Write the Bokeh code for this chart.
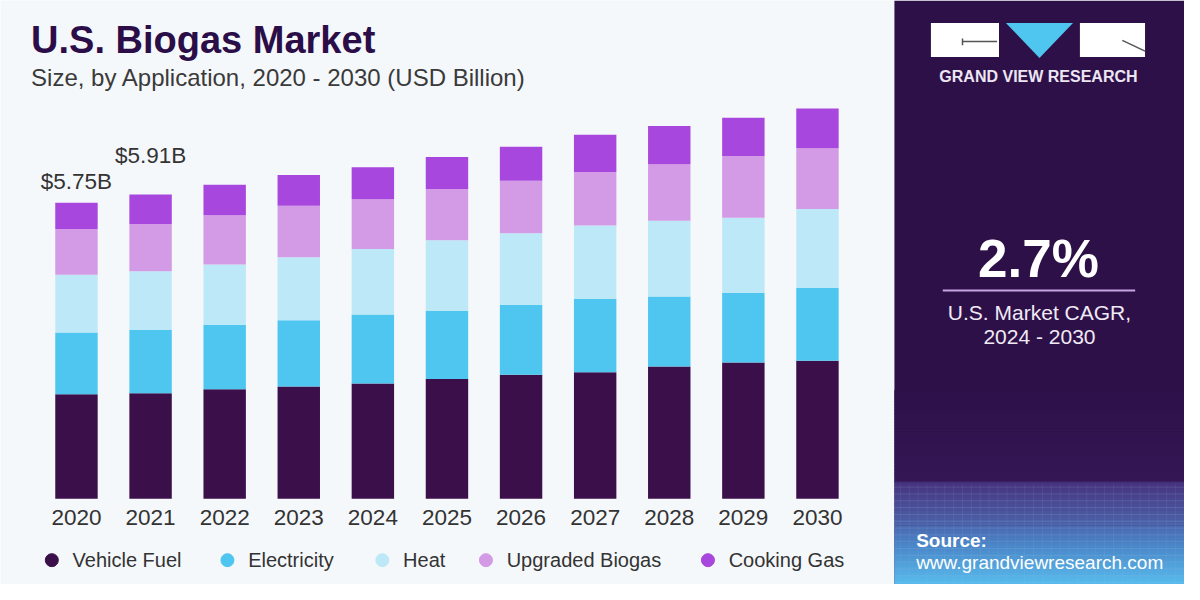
from bokeh.plotting import figure
from bokeh.models import Range1d, ColumnDataSource
from bokeh.core.properties import value
from bokeh.embed import file_html
from bokeh.resources import INLINE

# ---------------- data (USD Billion) ----------------
years = [2020, 2021, 2022, 2023, 2024, 2025, 2026, 2027, 2028, 2029, 2030]
vehicle_fuel = [2.03, 2.05, 2.13, 2.18, 2.24, 2.33, 2.41, 2.46, 2.57, 2.65, 2.68]
electricity = [1.20, 1.23, 1.25, 1.29, 1.34, 1.32, 1.36, 1.42, 1.36, 1.35, 1.42]
heat = [1.12, 1.14, 1.17, 1.22, 1.27, 1.37, 1.39, 1.43, 1.47, 1.46, 1.53]
upgraded_biogas = [0.89, 0.92, 0.96, 1.00, 0.97, 1.00, 1.02, 1.04, 1.10, 1.20, 1.18]
cooking_gas = [0.51, 0.57, 0.59, 0.60, 0.62, 0.62, 0.66, 0.72, 0.74, 0.74, 0.77]

series_keys = ["vehicle_fuel", "electricity", "heat", "upgraded_biogas", "cooking_gas"]
series_names = ["Vehicle Fuel", "Electricity", "Heat", "Upgraded Biogas", "Cooking Gas"]

labelled_years = [2020, 2021]
labelled_totals = [5.75, 5.91]
total_labels = ["$5.75B", "$5.91B"]

title_text = "U.S. Biogas Market"
subtitle_text = "Size, by Application, 2020 - 2030 (USD Billion)"
cagr_value = "2.7%"
cagr_lines = ["U.S. Market CAGR,", "2024 - 2030"]
brand = "GRAND VIEW RESEARCH"
source_lines = ["Source:", "www.grandviewresearch.com"]

# ---------------- styles / layout ----------------
series_colors = ["#3b0f4a", "#4ec6f0", "#bde8f7", "#d39ae5", "#a747dd"]
BG = "#f5f8fb"
PANEL = "#2e1049"
FONT = value("Liberation Sans")

W, H = 1184, 584          # figure size (fits the window with the page margin)
RW, RH = 1200, 600        # design canvas (reference pixels), scaled into the figure
PX_PER_YEAR = 75.1        # bar spacing in design pixels
PX_PER_B = 52.9           # design pixels per USD billion
BAR_X0 = 77               # centre of first bar (design px)
BASE_Y = 512              # bar baseline (design px)
BAR_W_PX = 43
SY = RH / H               # design px per screen px (vertical)


def bl(y, size):
    """design y of a text anchor whose alphabetic baseline should sit at y"""
    return y - 0.36 * size * SY


p = figure(width=W, height=H,
           x_range=Range1d(0, RW), y_range=Range1d(RH, 0),
           output_backend="svg", toolbar_location=None,
           x_axis_location=None, y_axis_location=None,
           min_border=0, outline_line_color=None,
           background_fill_color=BG, border_fill_color=BG)
p.xgrid.visible = False
p.ygrid.visible = False

p.extra_x_ranges = {"yr": Range1d(years[0] - BAR_X0 / PX_PER_YEAR,
                                  years[0] + (RW - BAR_X0) / PX_PER_YEAR)}
p.extra_y_ranges = {"val": Range1d(-(RH - BASE_Y) / PX_PER_B, BASE_Y / PX_PER_B)}

# ---------------- title ----------------
p.text(x=[31], y=[bl(55, 38)], text=[title_text], text_font=FONT, text_font_style="bold",
       text_font_size="38px", text_color="#2b0d48", text_baseline="alphabetic")
p.text(x=[31], y=[bl(88, 24)], text=[subtitle_text], text_font=FONT,
       text_font_size="24px", text_color="#3a3a3a", text_baseline="alphabetic")

# ---------------- stacked bars ----------------
src = ColumnDataSource(dict(year=years, vehicle_fuel=vehicle_fuel, electricity=electricity,
                            heat=heat, upgraded_biogas=upgraded_biogas, cooking_gas=cooking_gas))
p.vbar_stack(series_keys, x="year", width=BAR_W_PX / PX_PER_YEAR, color=series_colors,
             line_color=None, source=src, x_range_name="yr", y_range_name="val")

# year labels
p.text(x=years, y=[bl(539, 22.5)] * len(years), text=[str(y) for y in years], x_range_name="yr",
       text_font=FONT, text_font_size="22.5px", text_color="#333333",
       text_align="center", text_baseline="alphabetic")

# total labels (offset in screen px above the bar top)
label_offsets = [-13 + 0.36 * 22.5 * -1, -31 + 0.36 * 22.5 * -1]
p.text(x=labelled_years, y=labelled_totals, text=total_labels, y_offset=label_offsets,
       x_range_name="yr", y_range_name="val",
       text_font=FONT, text_font_size="22.5px", text_color="#333333",
       text_align="center", text_baseline="alphabetic")

# ---------------- legend ----------------
legend_x = [52, 230, 387, 492, 717]
p.scatter(x=legend_x, y=[575] * 5, size=13, marker="circle", color=series_colors)
p.text(x=[x + 21 for x in legend_x], y=[bl(582, 20)] * 5, text=series_names, text_font=FONT,
       text_font_size="20px", text_color="#333333", text_baseline="alphabetic")

# ---------------- right panel ----------------
PANEL_L = 906
p.quad(left=[PANEL_L], right=[RW], top=[0], bottom=[RH], color=PANEL, line_color=None)

# bottom gradient
stops = [(400, (46, 16, 73)), (494, (52, 22, 84)), (495, (70, 50, 124)),
         (530, (76, 90, 162)), (560, (74, 134, 200)), (600, (88, 188, 236))]
band_top, band_bot, band_col = [], [], []
for (y0, c0), (y1, c1) in zip(stops[:-1], stops[1:]):
    n = max(1, int((y1 - y0) / 3))
    for i in range(n):
        t0 = y0 + (y1 - y0) * i / n
        t1 = y0 + (y1 - y0) * (i + 1) / n
        f = (i + 0.5) / n
        c = tuple(int(round(a + (b - a) * f)) for a, b in zip(c0, c1))
        band_top.append(t0)
        band_bot.append(t1 + 0.5)
        band_col.append("#%02x%02x%02x" % c)
p.quad(left=PANEL_L, right=RW, top=band_top, bottom=band_bot, color=band_col, line_color=None)
# faint grid texture
for gy in range(500, 600, 7):
    p.line([PANEL_L, RW], [gy, gy], line_color="#9fc8f0", line_alpha=0.16, line_width=1)
for gx in range(PANEL_L + 6, RW, 9):
    p.line([gx, gx], [497, 600], line_color="#9fc8f0", line_alpha=0.10, line_width=1)

# logo
p.quad(left=[943, 1094], right=[1012, 1160], top=[23, 23], bottom=[58, 58],
       color="white", line_color=None)
p.patch(x=[1019, 1087, 1053], y=[23, 23, 59], color="#4ec6f0", line_color=None)
p.line([975, 1010], [42, 42], line_color="#555555", line_width=1.5)
p.line([975, 975], [39, 46], line_color="#555555", line_width=1.5)
p.line([1137, 1160], [41, 52], line_color="#555555", line_width=1.5)
p.text(x=[1052], y=[bl(84, 16)], text=[brand], text_font=FONT, text_font_style="bold",
       text_font_size="16px", text_color="#ece6f3", text_align="center",
       text_baseline="alphabetic")

# CAGR
p.text(x=[1052], y=[bl(285, 53)], text=[cagr_value], text_font=FONT, text_font_style="bold",
       text_font_size="53px", text_color="#ffffff", text_align="center",
       text_baseline="alphabetic")
p.line([955, 1150], [298, 298], line_color="#c7a5e3", line_width=2)
p.text(x=[1053, 1053], y=[bl(328, 21), bl(353, 21)], text=cagr_lines, text_font=FONT,
       text_font_size="21px", text_color="#f0eaf6", text_align="center",
       text_baseline="alphabetic")

# source
p.text(x=[928], y=[bl(562, 19)], text=[source_lines[0]], text_font=FONT, text_font_style="bold",
       text_font_size="19px", text_color="#ffffff", text_baseline="alphabetic")
p.text(x=[928], y=[bl(584, 19)], text=[source_lines[1]], text_font=FONT,
       text_font_size="19px", text_color="#ffffff", text_baseline="alphabetic")

open("out.html", "w").write(file_html(p, INLINE))
